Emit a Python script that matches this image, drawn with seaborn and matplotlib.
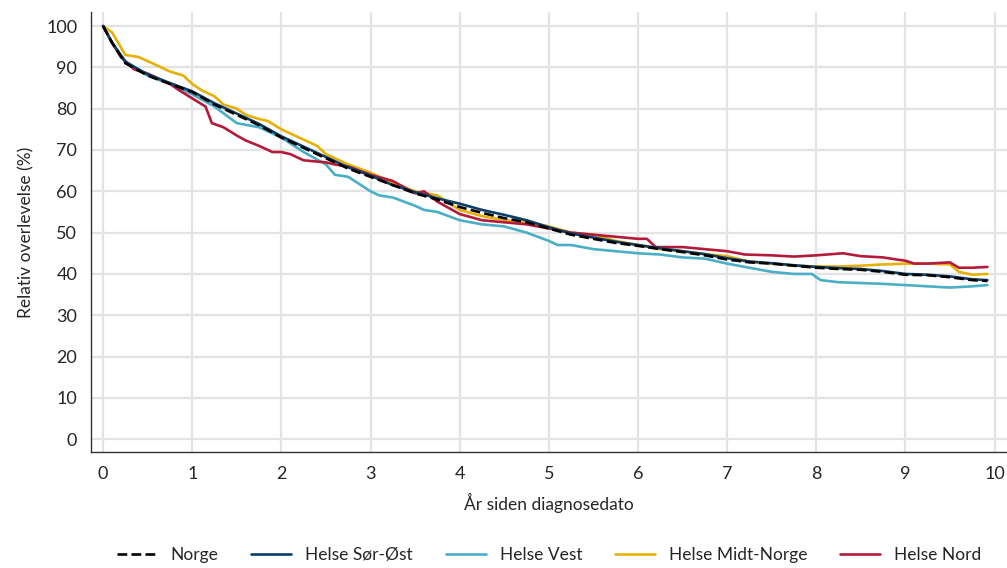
import numpy as np
import pandas as pd
import seaborn as sns
import matplotlib.pyplot as plt

# Tid (år) og relativ overlevelse (%) per region, lest av figuren
t_norge = [0, 0.1, 0.25, 0.5, 0.75, 1.0, 1.25, 1.5, 1.75, 2.0, 2.25, 2.5, 2.75, 3.0, 3.25, 3.5,
           3.75, 4.0, 4.25, 4.5, 4.75, 5.0, 5.25, 5.5, 5.75, 6.0, 6.25, 6.5, 6.75, 7.0, 7.25,
           7.5, 7.75, 8.0, 8.25, 8.5, 8.75, 9.0, 9.25, 9.5, 9.75, 9.92]
y_norge = [100, 96, 91, 88, 86, 84, 81, 78.5, 76, 73, 70.5, 68, 65.5, 63.5, 61.5, 59.5,
           58, 56.2, 54.8, 53.5, 52.5, 51, 49.5, 48.5, 47.5, 46.8, 46, 45.3, 44.5, 43.5, 42.8,
           42.5, 42, 41.5, 41.2, 41, 40.5, 39.8, 39.7, 39.2, 38.5, 38.3]

t_soe = t_norge
y_soe = [100, 96, 91.3, 88.3, 86.2, 84.2, 81.3, 78.8, 76.3, 73.3, 70.8, 68.3, 65.8, 63.8, 61.5, 59.8,
         58.3, 57, 55.5, 54.3, 53, 51.3, 49.8, 48.8, 47.8, 47, 46.2, 45.5, 44.8, 43.8, 43,
         42.6, 42.1, 41.7, 41.4, 41.2, 40.7, 40, 39.8, 39.4, 38.7, 38.5]

t_vest = [0, 0.1, 0.25, 0.5, 0.75, 1.0, 1.25, 1.5, 1.75, 2.0, 2.25, 2.5, 2.6, 2.75, 3.0, 3.1,
          3.25, 3.5, 3.6, 3.75, 4.0, 4.25, 4.5, 4.75, 5.0, 5.1, 5.25, 5.5, 5.75, 6.0, 6.25,
          6.5, 6.75, 7.0, 7.25, 7.5, 7.75, 7.95, 8.05, 8.25, 8.5, 8.75, 9.0, 9.25, 9.5, 9.75, 9.92]
y_vest = [100, 96, 91.5, 88, 86, 83.5, 80.5, 76.5, 75.5, 73, 69.5, 66.5, 64, 63.5, 60, 59,
          58.5, 56.5, 55.5, 55, 53, 52, 51.5, 50, 48, 47, 47, 46, 45.5, 45, 44.7,
          44, 43.7, 42.5, 41.5, 40.5, 40, 40, 38.5, 38, 37.8, 37.6, 37.3, 37, 36.7, 37, 37.3]

t_midt = [0, 0.1, 0.25, 0.4, 0.5, 0.6, 0.75, 0.9, 1.0, 1.1, 1.25, 1.35, 1.5, 1.6, 1.75, 1.85,
          2.0, 2.25, 2.4, 2.5, 2.75, 3.0, 3.25, 3.5, 3.75, 4.0, 4.25, 4.5, 4.75, 4.9, 5.0,
          5.25, 5.5, 5.75, 6.0, 6.25, 6.5, 6.75, 7.0, 7.25, 7.5, 7.75, 8.0, 8.25, 8.5, 8.75,
          9.0, 9.25, 9.5, 9.6, 9.75, 9.92]
y_midt = [100, 98.5, 93, 92.5, 91.5, 90.5, 89, 88, 86, 84.5, 83, 81, 80, 78.5, 77.5, 77,
          75, 72.5, 71, 69, 66.5, 64.5, 62, 60, 59, 55.5, 54, 53, 52.5, 52, 51.5,
          50, 49.5, 48, 47, 46, 45.5, 44.8, 44.3, 43, 42.5, 42, 41.8, 41.8, 42, 42.3,
          42.5, 42.5, 42.3, 40.5, 39.8, 40]

t_nord = [0, 0.1, 0.2, 0.35, 0.5, 0.75, 0.85, 1.0, 1.15, 1.22, 1.35, 1.5, 1.6, 1.75, 1.9, 2.0,
          2.1, 2.25, 2.5, 2.6, 2.75, 3.0, 3.25, 3.5, 3.6, 3.75, 4.0, 4.25, 4.5, 4.75, 5.0,
          5.25, 5.5, 5.75, 6.0, 6.1, 6.2, 6.5, 6.75, 7.0, 7.2, 7.5, 7.75, 8.0, 8.3, 8.5,
          8.75, 8.9, 9.0, 9.1, 9.25, 9.5, 9.6, 9.75, 9.92]
y_nord = [100, 96, 92.5, 89.5, 88.5, 86, 84.5, 82.5, 80.5, 76.5, 75.5, 73.5, 72.3, 71, 69.5, 69.5,
          69, 67.5, 67, 66.5, 66, 64, 62.5, 59.5, 60, 57.5, 54.5, 53, 52.5, 52, 51,
          50, 49.5, 49, 48.5, 48.5, 46.5, 46.5, 46, 45.5, 44.7, 44.5, 44.2, 44.5, 45, 44.3,
          44, 43.5, 43.2, 42.5, 42.5, 42.8, 41.5, 41.5, 41.7]

regioner = ['Norge', 'Helse Sør-Øst', 'Helse Vest', 'Helse Midt-Norge', 'Helse Nord']
farger = ['#000000', '#0b3f68', '#4aaec6', '#e8b005', '#b41a3b']

frames = []
for navn, t, y in zip(regioner,
                      [t_norge, t_soe, t_vest, t_midt, t_nord],
                      [y_norge, y_soe, y_vest, y_midt, y_nord]):
    frames.append(pd.DataFrame({'tid': t, 'overlevelse': y, 'region': navn}))
df = pd.concat(frames, ignore_index=True)

sns.set_style('white')
plt.rcParams['font.family'] = ['Lato', 'DejaVu Sans']

fig = plt.figure(figsize=(10.07, 5.68), dpi=100)
ax = fig.add_axes([0.0904, 0.2042, 0.9096, 0.7747])

# tegn regionene først, Norge til slutt (stiplet over)
rekkefolge = ['Helse Vest', 'Helse Midt-Norge', 'Helse Nord', 'Helse Sør-Øst', 'Norge']
for navn in rekkefolge:
    d = df[df['region'] == navn]
    sns.lineplot(data=d, x='tid', y='overlevelse', ax=ax,
                 color=farger[regioner.index(navn)], lw=1.9,
                 linestyle='--' if navn == 'Norge' else '-',
                 label=navn, zorder=3 if navn == 'Norge' else 2)

ax.set_xlim(-0.135, 10.14)
ax.set_ylim(-3.1, 103.4)
ax.set_xticks(range(0, 11))
ax.set_yticks(range(0, 101, 10))
ax.grid(True, color='#e3e3e3', lw=1.6, zorder=0)
ax.set_axisbelow(True)
sns.despine(ax=ax)
for s in ['left', 'bottom']:
    ax.spines[s].set_color('#333333')
    ax.spines[s].set_linewidth(1)
ax.tick_params(axis='both', direction='out', length=6, width=1, color='#333333',
               labelsize=13, pad=4)
ax.set_xlabel('År siden diagnosedato', fontsize=12.5, labelpad=8)
ax.set_ylabel('Relativ overlevelse (%)', fontsize=12.5, labelpad=8)

handles, labels = ax.get_legend_handles_labels()
orden = [labels.index(n) for n in regioner]
ax.legend([handles[i] for i in orden], [labels[i] for i in orden],
          loc='center', bbox_to_anchor=(0.5, -0.235), ncol=5, frameon=False,
          fontsize=12.5, handlelength=2.3, columnspacing=1.9)

fig.savefig('out.png', dpi=100)
